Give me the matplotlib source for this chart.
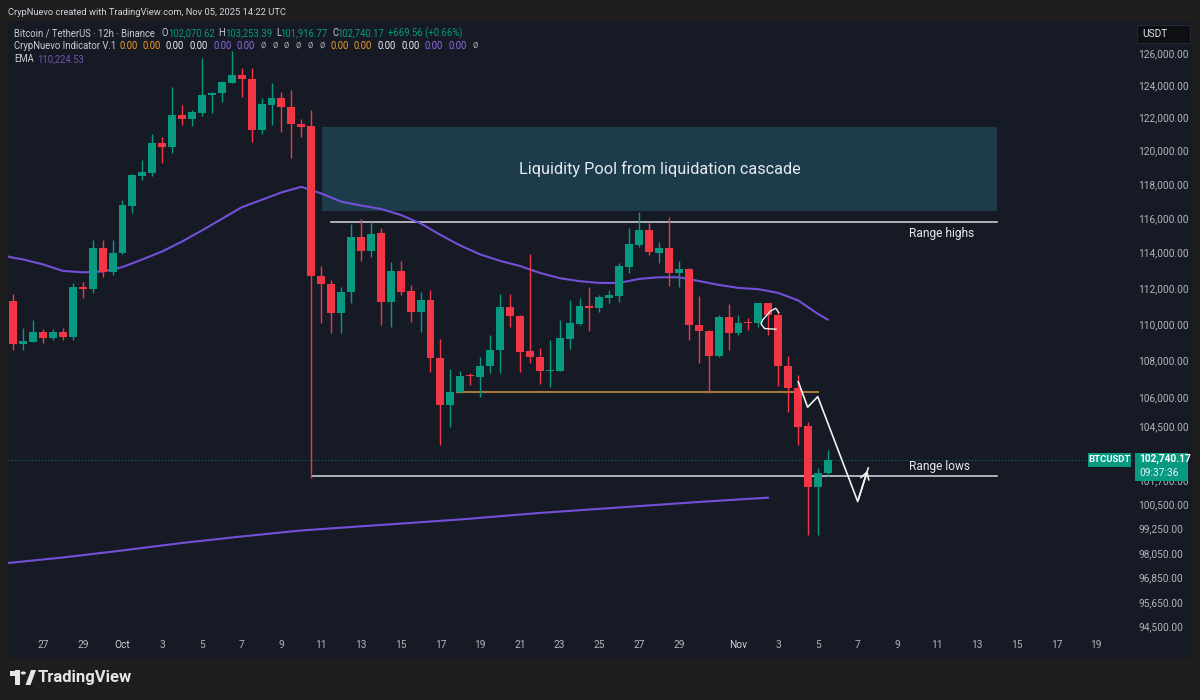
import numpy as np
import pandas as pd
import matplotlib
matplotlib.use("Agg")
import matplotlib.pyplot as plt
from matplotlib.patches import Rectangle, Circle, Polygon
from matplotlib.ticker import NullLocator

plt.rcParams['font.family'] = ['Roboto', 'DejaVu Sans']

# ---------------- data (12h candles, BTCUSDT Binance) ----------------
candle_start = '2025-09-25 12:00'
opens = [111290, 108895, 109020, 109570, 109210, 109540, 109260, 112060, 111930, 114250,
         112920, 113970, 116700, 118475, 118670, 120470, 120230, 122150, 121890, 122300,
         123390, 123500, 124160, 124640, 124390, 121240, 122770, 123220, 122660, 121610,
         121500, 112690, 112210, 110590, 111790, 114880, 114080, 115120, 111220, 112970,
         111830, 110680, 111330, 108120, 105610, 106320, 107210, 107090, 107710, 108570,
         110950, 110430, 108510, 108200, 107420, 107440, 109150, 109980, 110990, 110890,
         111460, 111570, 113200, 114440, 115310, 114000, 114250, 112830, 113070, 109940,
         109620, 108240, 110360, 109520, 110090, 110030, 111140, 110490, 107700, 106500,
         104500, 101370, 102070.62]
highs = [111660, 109760, 110210, 109700, 109720, 109760, 112250, 112340, 114730, 114730,
         114730, 117056, 118600, 119430, 121000, 120800, 123860, 122770, 122480, 125690,
         123600, 124230, 126160, 125060, 125060, 123190, 124160, 123590, 123700, 121890,
         122465, 113260, 112450, 112070, 115650, 115930, 115790, 115410, 113490, 113540,
         112170, 111790, 111890, 109150, 107520, 107430, 107320, 108200, 109390, 111640,
         111640, 110480, 113910, 108660, 109110, 110210, 111330, 111460, 112040, 111610,
         111890, 113390, 115410, 116370, 115730, 114630, 116040, 113540, 113120, 111550,
         109650, 110490, 111100, 110490, 110340, 111160, 111150, 110640, 108240, 107210,
         104730, 102310, 103253.39]
lows = [108570, 108570, 109020, 108970, 109110, 109110, 109110, 111420, 111740, 112600,
        112750, 113900, 116310, 118237, 118475, 119230, 119830, 121550, 121490, 122100,
        122270, 122980, 124120, 123280, 120530, 121000, 121550, 121140, 119570, 120800,
        101800, 110030, 109520, 109520, 111140, 113530, 113770, 109940, 109810, 111600,
        110120, 109570, 107390, 103510, 104470, 106260, 106680, 106050, 107300, 107300,
        109810, 107390, 107830, 106730, 106590, 107400, 108600, 109950, 109630, 110630,
        111140, 111230, 112860, 114340, 113870, 113430, 112110, 112040, 109110, 107830,
        106260, 108200, 108570, 109390, 109660, 109850, 109390, 106620, 105260, 103510,
        98940, 98940, 101916.77]
closes = [108895, 109060, 109570, 109210, 109570, 109260, 112060, 111930, 114250, 112920,
          114000, 116760, 118530, 118695, 120470, 120230, 122150, 121890, 122320, 123390,
          123530, 124180, 124640, 124370, 121240, 122830, 123220, 122630, 121590, 121450,
          112690, 112210, 110590, 111790, 114880, 114080, 115080, 111220, 112960, 111790,
          110680, 111330, 108120, 105610, 106320, 107160, 107160, 107710, 108570, 110950,
          110430, 108480, 108200, 107440, 107480, 109210, 110030, 110990, 110860, 111480,
          111590, 113240, 114500, 115310, 114020, 114250, 112830, 113070, 109940, 109610,
          108240, 110360, 109520, 110070, 110030, 111140, 110490, 107700, 106500, 104470,
          101370, 102070, 102740.17]

ema_times = ['2025-09-25', '2025-09-25 12:00', '2025-09-26', '2025-09-27', '2025-09-28',
             '2025-09-29', '2025-09-30', '2025-10-01', '2025-10-02', '2025-10-03',
             '2025-10-04', '2025-10-05', '2025-10-06', '2025-10-07', '2025-10-08',
             '2025-10-09', '2025-10-10', '2025-10-11', '2025-10-12', '2025-10-13',
             '2025-10-14', '2025-10-15', '2025-10-16', '2025-10-17', '2025-10-18',
             '2025-10-19', '2025-10-20', '2025-10-21', '2025-10-22', '2025-10-23',
             '2025-10-24', '2025-10-25', '2025-10-26', '2025-10-27', '2025-10-28',
             '2025-10-29', '2025-10-30', '2025-10-31', '2025-11-01', '2025-11-02',
             '2025-11-03', '2025-11-04', '2025-11-05', '2025-11-05 12:00']
ema_values = [113840, 113710, 113610, 113330, 112960, 112880, 112930, 113180, 113610, 114070,
              114640, 115280, 115950, 116630, 117060, 117500, 117830, 117440, 116960, 116730,
              116530, 116180, 115690, 115020, 114410, 113900, 113530, 113240, 112850, 112550,
              112380, 112280, 112280, 112510, 112600, 112600, 112390, 112170, 112000, 111930,
              111720, 111300, 110550, 110224.53]

ema_long_times = ['2025-09-25', '2025-09-28', '2025-10-01', '2025-10-04', '2025-10-07',
                  '2025-10-10', '2025-10-14', '2025-10-18', '2025-10-22', '2025-10-26',
                  '2025-10-30', '2025-11-02 12:00']
ema_long_values = [97530, 97824, 98169, 98540, 98862, 99160, 99434, 99709, 100035, 100311,
                   100588, 100807]

price_ticks = [126000, 124000, 122000, 120000, 118000, 116000, 114000, 112000, 110000,
               108000, 106000, 104500, 101700, 100500, 99250, 98050, 96850, 95650, 94500]

date_tick_dates = ['2025-09-27', '2025-09-29', '2025-10-01', '2025-10-03', '2025-10-05',
                   '2025-10-07', '2025-10-09', '2025-10-11', '2025-10-13', '2025-10-15',
                   '2025-10-17', '2025-10-19', '2025-10-21', '2025-10-23', '2025-10-25',
                   '2025-10-27', '2025-10-29', '2025-11-01', '2025-11-03', '2025-11-05',
                   '2025-11-07', '2025-11-09', '2025-11-11', '2025-11-13', '2025-11-15',
                   '2025-11-17', '2025-11-19']
date_tick_labels = ['27', '29', 'Oct', '3', '5', '7', '9', '11', '13', '15', '17', '19', '21',
                    '23', '25', '27', '29', 'Nov', '3', '5', '7', '9', '11', '13', '15', '17',
                    '19']

range_high = 115750
range_low = 101890
mid_level = 106320
pool_low, pool_high = 116410, 121400
last_price = 102740.17

# drawings (time, price)
proj_times = ['2025-11-04 00:15', '2025-11-04 11:30', '2025-11-04 23:45',
              '2025-11-07 00:00', '2025-11-07 12:45']
proj_prices = [106850, 105490, 106050, 100610, 102320]
curl_times = ['2025-11-02 21:20', '2025-11-02 07:30', '2025-11-02 03:10', '2025-11-02 05:30',
              '2025-11-02 14:30', '2025-11-02 21:00', '2025-11-03 00:40']
curl_prices = [109700, 109740, 110000, 110230, 110700, 110860, 110620]

# ---------------- helpers ----------------
REF = pd.Timestamp('2025-10-01')


def T(s):
    return (pd.Timestamp(s) - REF) / pd.Timedelta(days=1)


W, H = 1200, 700


def fx(x):
    return x / W


def fy(y):
    return 1 - y / H


BG_OUT = '#1E1E1E'
BG_PANE = '#161A25'
GREEN = '#089981'
RED = '#F23645'
AXIS_TXT = '#B2B5BE'
PURPLE = '#7450D8'

fig = plt.figure(figsize=(12, 7), dpi=100, facecolor=BG_OUT)
fig.add_artist(Rectangle((fx(7), fy(658)), fx(1192 - 7), (658 - 21) / H,
                         transform=fig.transFigure, facecolor=BG_PANE, edgecolor='none',
                         zorder=-5))

ax = fig.add_axes([fx(8), fy(632), fx(1134 - 8), (632 - 22) / H])
ax.set_facecolor('none')
ax.set_yscale('log')
ax.set_ylim(94232, 127995)
ax.set_xlim(-5.762, 50.905)
for sp in ax.spines.values():
    sp.set_visible(False)

# candles
times = pd.date_range(candle_start, periods=len(opens), freq='12h')
tx = np.array([T(t) for t in times])
o = np.array(opens, float)
h = np.array(highs, float)
l = np.array(lows, float)
c = np.array(closes, float)
cols = np.where(c >= o, GREEN, RED)
bottoms = np.minimum(o, c)
heights = np.maximum(np.abs(c - o), bottoms * 0.0006)
ax.vlines(tx, l, h, colors=cols, linewidth=1.0, zorder=4)
ax.bar(tx, heights, bottom=bottoms, width=0.40, color=cols, linewidth=0, zorder=5)

# EMAs
ax.plot([T(t) for t in ema_times], ema_values, color=PURPLE, lw=1.5, zorder=3,
        solid_capstyle='round')
ax.plot([T(t) for t in ema_long_times], ema_long_values, color=PURPLE, lw=1.5, zorder=3,
        solid_capstyle='round')

# liquidity pool box
p0, p1 = T('2025-11-14 00:00'), T('2025-10-11 01:00')
ax.add_patch(Rectangle((p1, pool_low), p0 - p1, pool_high - pool_low,
                       facecolor='#1C3C4B', edgecolor='none', zorder=1))
ax.text((p0 + p1) / 2, 118890, 'Liquidity Pool from liquidation cascade', ha='center',
        va='center', color='#E6E9F0', fontsize=11.7, zorder=6)

# range lines
ax.plot([T('2025-10-11 12:00'), T('2025-11-14 00:00')], [range_high, range_high],
        color='#D8DAE0', lw=1.1, zorder=2)
ax.plot([T('2025-10-10 12:30'), T('2025-11-14 00:00')], [range_low, range_low],
        color='#D8DAE0', lw=1.1, zorder=2)
ax.plot([T('2025-10-17 19:40'), T('2025-11-05 00:15')], [mid_level, mid_level],
        color='#A47A3B', lw=1.5, zorder=2)
ax.text(T('2025-11-09 14:00'), 115130, 'Range highs', color='#E6E9F0', fontsize=8.6,
        ha='left', va='center', zorder=6)
ax.text(T('2025-11-09 14:00'), 102380, 'Range lows', color='#E6E9F0', fontsize=8.6,
        ha='left', va='center', zorder=6)

# last price dotted line
ax.axhline(last_price, color=GREEN, lw=0.8, ls=(0, (1, 2)), alpha=0.7, zorder=1)

# projection path
px = [T(t) for t in proj_times]
ax.plot(px, proj_prices, color='#F0F0F0', lw=1.2, zorder=7)
ax.annotate('', xy=(px[-1], proj_prices[-1]), xytext=(px[-2], proj_prices[-2]),
            arrowprops=dict(arrowstyle='->,head_length=0.5,head_width=0.3', color='#F0F0F0',
                            lw=1.2), zorder=7)
cx = [T(t) for t in curl_times]
ax.plot(cx, curl_prices, color='#F0F0F0', lw=1.0, zorder=7)

# axes ticks
ax.yaxis.tick_right()
ax.set_yticks(price_ticks)
ax.set_yticklabels([f'{p:,.2f}' for p in price_ticks])
ax.yaxis.set_minor_locator(NullLocator())
ax.tick_params(axis='y', length=0, pad=3.0, labelsize=7.3, labelcolor=AXIS_TXT)
ax.set_xticks([T(d) for d in date_tick_dates])
ax.set_xticklabels(date_tick_labels)
ax.xaxis.set_minor_locator(NullLocator())
ax.tick_params(axis='x', length=0, pad=6, labelsize=7.3, labelcolor=AXIS_TXT)
for lab in ax.get_xticklabels():
    if lab.get_text() in ('Oct', 'Nov'):
        lab.set_color('#D1D4DC')

# ---------------- overlay labels ----------------
fig.canvas.draw()
ly = H - ax.transData.transform((0, last_price))[1]

fig.add_artist(Rectangle((fx(1088), fy(ly + 7.5)), fx(43), 14.5 / H, transform=fig.transFigure,
                         facecolor=GREEN, edgecolor='none', zorder=10))
fig.text(fx(1109.5), fy(ly), 'BTCUSDT', color='white', fontsize=6.8, fontweight='bold',
         ha='center', va='center', zorder=11)
fig.add_artist(Rectangle((fx(1135), fy(ly + 21.5)), fx(53), 28.5 / H, transform=fig.transFigure,
                         facecolor=GREEN, edgecolor='none', zorder=10))
fig.text(fx(1139), fy(ly - 0.5), f'{last_price:,.2f}', color='white', fontsize=7.3,
         fontweight='bold', ha='left', va='center', zorder=11)
fig.text(fx(1139), fy(ly + 13), '09:37:36', color='#E8F5F2', fontsize=7.3,
         ha='left', va='center', zorder=11)

# USDT box
fig.add_artist(Rectangle((fx(1137), fy(43)), fx(53), 18 / H, transform=fig.transFigure,
                         facecolor='#0E0F12', edgecolor='#2A2E39', lw=0.6, zorder=10))
fig.text(fx(1142), fy(34), 'USDT', color='#E0E3EB', fontsize=7.3, ha='left', va='center',
         zorder=11)

# header lines
HDR = 6.85
fig.text(fx(8), fy(12.3), 'CrypNuevo created with TradingView.com, Nov 05, 2025 14:22 UTC',
         color='#D1D4DC', fontsize=6.75, ha='left', va='center')


def put(x, y, s, col, size=HDR, weight='normal'):
    fig.text(fx(x), fy(y), s, color=col, fontsize=size, ha='left', va='center',
             fontweight=weight, zorder=8)


LBL = '#C9CCD4'
put(14.3, 33.3, 'Bitcoin / TetherUS · 12h · Binance', LBL)
for x, s, col in [(161, 'O', LBL), (168.3, '102,070.62', GREEN), (218.3, 'H', LBL),
                  (225.3, '103,253.39', GREEN), (276, 'L', LBL), (280.7, '101,916.77', GREEN),
                  (332.3, 'C', LBL), (337.3, '102,740.17', GREEN),
                  (388.3, '+669.56 (+0.66%)', GREEN)]:
    put(x, 33.3, s, col)

ORG = '#F29B28'
WHT = '#F2F2F2'
PUR = '#8E6BE6'
GRY = '#9598A1'
put(14.3, 45.7, 'CrypNuevo Indicator V.1', LBL)
for x, s, col in [(119, '0.00', ORG), (142.7, '0.00', ORG), (165.7, '0.00', WHT),
                  (189.3, '0.00', WHT), (213.3, '0.00', PUR), (236.7, '0.00', PUR),
                  (261, 'ø', GRY), (272.3, 'ø', GRY), (284, 'ø', GRY), (295.7, 'ø', GRY),
                  (307.3, 'ø', GRY), (319.3, 'ø', GRY),
                  (330.7, '0.00', ORG), (354, '0.00', ORG), (377.3, '0.00', WHT),
                  (401, '0.00', WHT), (424.3, '0.00', PUR), (448.3, '0.00', PUR),
                  (472.3, 'ø', GRY)]:
    put(x, 45.7, s, col)
put(14.3, 59.3, 'EMA', LBL)
put(37.7, 59.3, '110,224.53', '#6E55B0')

# TradingView logo
LOGO = '#E6E6E6'
fig.add_artist(Rectangle((fx(10), fy(676)), fx(10), 5.5 / H, transform=fig.transFigure,
                         facecolor=LOGO, edgecolor='none'))
fig.add_artist(Rectangle((fx(15), fy(685)), fx(5), 15 / H, transform=fig.transFigure,
                         facecolor=LOGO, edgecolor='none'))
fig.add_artist(Polygon([(fx(25.5), fy(685)), (fx(30.5), fy(685)), (fx(36), fy(670)),
                        (fx(31), fy(670))], closed=True, transform=fig.transFigure,
                       facecolor=LOGO, edgecolor='none'))
fig.add_artist(Circle((fx(23.3), fy(673)), 2.6 / W, transform=fig.transFigure,
                      facecolor=LOGO, edgecolor='none'))
fig.text(fx(38), fy(677.5), 'TradingView', color=LOGO, fontsize=12.0, fontweight='bold',
         ha='left', va='center')

fig.savefig('out.png', dpi=100, facecolor=BG_OUT)
